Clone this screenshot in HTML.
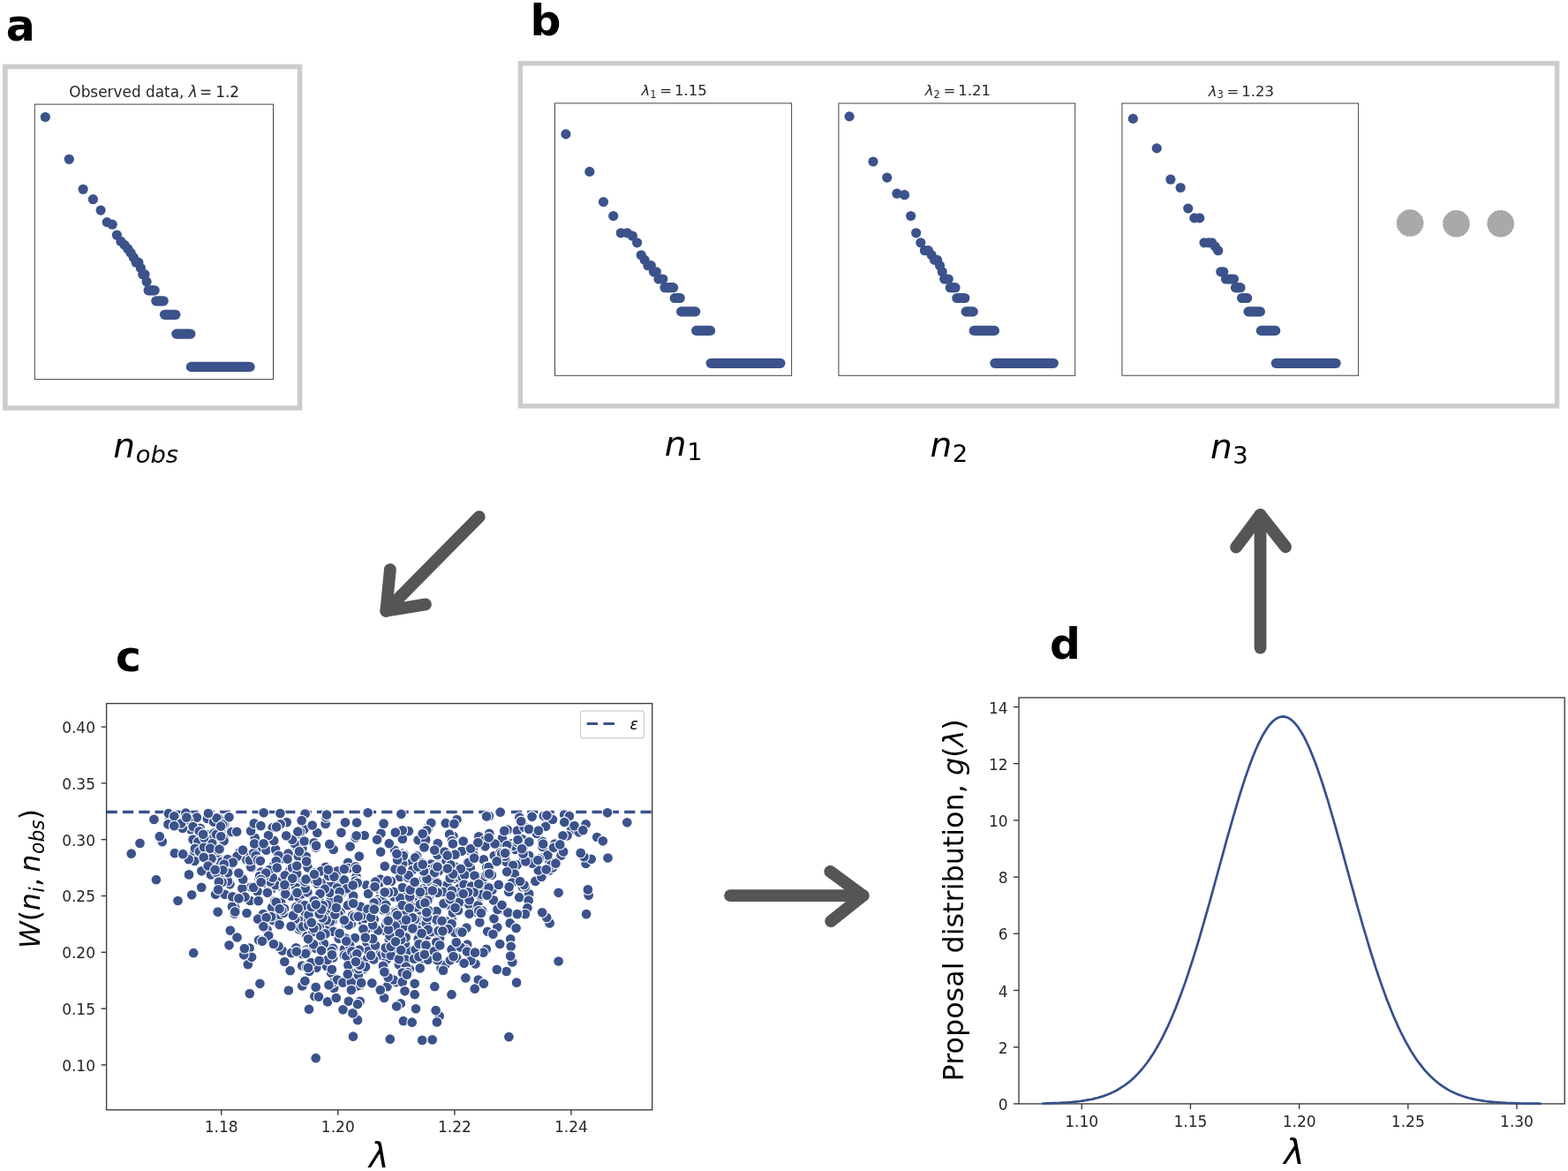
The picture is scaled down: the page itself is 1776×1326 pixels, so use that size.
<!DOCTYPE html>
<html lang="en"><head><meta charset="utf-8"><title>ABC scheme</title>
<style>html,body{margin:0;padding:0;background:#fff}body{width:1776px;height:1326px;overflow:hidden}svg{display:block}</style>
</head><body>
<svg width="1776" height="1326" viewBox="0 0 1776 1326" font-family="'DejaVu Sans','Liberation Sans',sans-serif">
<rect width="1776" height="1326" fill="#fff"/>
<rect x="5.9" y="75.5" width="333.6" height="386.5" fill="#fff" stroke="#cccccc" stroke-width="5.6"/>
<rect x="589.4" y="71.8" width="1174.2" height="388.0" fill="#fff" stroke="#cccccc" stroke-width="5.5"/>
<text transform="matrix(0.4905 0 0 0.5026 6.77 45.60)" font-size="100" fill="#000" font-weight="bold">a</text>
<text transform="translate(600.43 39.58) scale(0.4880)" font-size="100" fill="#000" font-weight="bold">b</text>
<text transform="translate(130.95 759.60) scale(0.4880)" font-size="100" fill="#000" font-weight="bold">c</text>
<text transform="translate(1189.07 745.53) scale(0.4880)" font-size="100" fill="#000" font-weight="bold">d</text>
<rect x="39.3" y="118.1" width="270.2" height="311.5" fill="#fff" stroke="#444" stroke-width="1"/>
<g fill="#3b528b" stroke="#3b528b" stroke-width="11.2" stroke-linecap="round">
<circle stroke="none" cx="51.3" cy="132.5" r="5.6"/><circle stroke="none" cx="78.3" cy="180.3" r="5.6"/><circle stroke="none" cx="94.1" cy="214.3" r="5.6"/><circle stroke="none" cx="105.4" cy="225.7" r="5.6"/><circle stroke="none" cx="114.1" cy="238.1" r="5.6"/><circle stroke="none" cx="121.2" cy="251.6" r="5.6"/><circle stroke="none" cx="127.2" cy="254.2" r="5.6"/><circle stroke="none" cx="132.4" cy="266.2" r="5.6"/><circle stroke="none" cx="137.0" cy="273.4" r="5.6"/><circle stroke="none" cx="141.1" cy="277.4" r="5.6"/><circle stroke="none" cx="144.8" cy="281.7" r="5.6"/><circle stroke="none" cx="148.2" cy="286.4" r="5.6"/><circle stroke="none" cx="151.3" cy="291.5" r="5.6"/><circle stroke="none" cx="154.2" cy="297.2" r="5.6"/><circle stroke="none" cx="156.9" cy="297.2" r="5.6"/><circle stroke="none" cx="159.4" cy="303.5" r="5.6"/><circle stroke="none" cx="161.8" cy="310.7" r="5.6"/><circle stroke="none" cx="164.0" cy="310.7" r="5.6"/><circle stroke="none" cx="166.1" cy="319.0" r="5.6"/><circle stroke="none" cx="168.1" cy="328.8" r="5.6"/><circle stroke="none" cx="170.0" cy="328.8" r="5.6"/><circle stroke="none" cx="171.9" cy="328.8" r="5.6"/><circle stroke="none" cx="173.6" cy="328.8" r="5.6"/><circle stroke="none" cx="175.2" cy="328.8" r="5.6"/><line x1="176.8" y1="340.8" x2="185.2" y2="340.8"/><line x1="186.5" y1="356.3" x2="198.9" y2="356.3"/><line x1="199.8" y1="378.1" x2="215.9" y2="378.1"/><line x1="216.4" y1="415.4" x2="283.1" y2="415.4"/>
</g>
<rect x="628.5" y="116.9" width="268.1" height="308.4" fill="#fff" stroke="#444" stroke-width="1"/>
<g fill="#3b528b" stroke="#3b528b" stroke-width="11.2" stroke-linecap="round">
<circle stroke="none" cx="640.9" cy="151.9" r="5.6"/><circle stroke="none" cx="667.8" cy="194.4" r="5.6"/><circle stroke="none" cx="683.5" cy="228.6" r="5.6"/><circle stroke="none" cx="694.7" cy="244.5" r="5.6"/><circle stroke="none" cx="703.3" cy="263.8" r="5.6"/><circle stroke="none" cx="710.4" cy="263.8" r="5.6"/><circle stroke="none" cx="716.4" cy="267.2" r="5.6"/><circle stroke="none" cx="721.6" cy="274.8" r="5.6"/><circle stroke="none" cx="726.2" cy="288.8" r="5.6"/><circle stroke="none" cx="730.2" cy="294.4" r="5.6"/><circle stroke="none" cx="733.9" cy="300.7" r="5.6"/><circle stroke="none" cx="737.3" cy="300.7" r="5.6"/><circle stroke="none" cx="740.4" cy="307.8" r="5.6"/><circle stroke="none" cx="743.3" cy="307.8" r="5.6"/><circle stroke="none" cx="746.0" cy="316.0" r="5.6"/><circle stroke="none" cx="748.5" cy="316.0" r="5.6"/><circle stroke="none" cx="750.8" cy="316.0" r="5.6"/><circle stroke="none" cx="753.0" cy="325.7" r="5.6"/><circle stroke="none" cx="755.1" cy="325.7" r="5.6"/><circle stroke="none" cx="757.1" cy="325.7" r="5.6"/><circle stroke="none" cx="759.0" cy="325.7" r="5.6"/><circle stroke="none" cx="760.8" cy="325.7" r="5.6"/><circle stroke="none" cx="762.6" cy="325.7" r="5.6"/><circle stroke="none" cx="764.2" cy="337.5" r="5.6"/><circle stroke="none" cx="765.8" cy="337.5" r="5.6"/><circle stroke="none" cx="767.3" cy="337.5" r="5.6"/><circle stroke="none" cx="768.8" cy="337.5" r="5.6"/><circle stroke="none" cx="770.2" cy="337.5" r="5.6"/><line x1="771.6" y1="352.9" x2="787.7" y2="352.9"/><line x1="788.6" y1="374.4" x2="804.6" y2="374.4"/><line x1="805.2" y1="411.3" x2="883.9" y2="411.3"/>
</g>
<rect x="949.9" y="117.0" width="267.8" height="308.3" fill="#fff" stroke="#444" stroke-width="1"/>
<g fill="#3b528b" stroke="#3b528b" stroke-width="11.2" stroke-linecap="round">
<circle stroke="none" cx="962.1" cy="131.9" r="5.6"/><circle stroke="none" cx="989.0" cy="183.0" r="5.6"/><circle stroke="none" cx="1004.7" cy="201.1" r="5.6"/><circle stroke="none" cx="1015.9" cy="219.2" r="5.6"/><circle stroke="none" cx="1024.5" cy="220.7" r="5.6"/><circle stroke="none" cx="1031.6" cy="244.5" r="5.6"/><circle stroke="none" cx="1037.6" cy="263.8" r="5.6"/><circle stroke="none" cx="1042.8" cy="274.8" r="5.6"/><circle stroke="none" cx="1047.4" cy="283.7" r="5.6"/><circle stroke="none" cx="1051.4" cy="283.7" r="5.6"/><circle stroke="none" cx="1055.1" cy="288.8" r="5.6"/><circle stroke="none" cx="1058.5" cy="294.4" r="5.6"/><circle stroke="none" cx="1061.6" cy="294.4" r="5.6"/><circle stroke="none" cx="1064.5" cy="300.7" r="5.6"/><circle stroke="none" cx="1067.2" cy="307.8" r="5.6"/><circle stroke="none" cx="1069.7" cy="316.0" r="5.6"/><circle stroke="none" cx="1072.0" cy="316.0" r="5.6"/><circle stroke="none" cx="1074.2" cy="316.0" r="5.6"/><circle stroke="none" cx="1076.3" cy="325.7" r="5.6"/><circle stroke="none" cx="1078.3" cy="325.7" r="5.6"/><circle stroke="none" cx="1080.2" cy="325.7" r="5.6"/><circle stroke="none" cx="1082.0" cy="325.7" r="5.6"/><line x1="1083.8" y1="337.5" x2="1092.8" y2="337.5"/><line x1="1094.1" y1="352.9" x2="1102.2" y2="352.9"/><line x1="1103.2" y1="374.4" x2="1126.4" y2="374.4"/><line x1="1126.9" y1="411.3" x2="1193.3" y2="411.3"/>
</g>
<rect x="1270.9" y="117.0" width="267.7" height="308.2" fill="#fff" stroke="#444" stroke-width="1"/>
<g fill="#3b528b" stroke="#3b528b" stroke-width="11.2" stroke-linecap="round">
<circle stroke="none" cx="1283.3" cy="134.4" r="5.6"/><circle stroke="none" cx="1310.2" cy="167.9" r="5.6"/><circle stroke="none" cx="1325.9" cy="203.2" r="5.6"/><circle stroke="none" cx="1337.1" cy="212.5" r="5.6"/><circle stroke="none" cx="1345.7" cy="236.0" r="5.6"/><circle stroke="none" cx="1352.8" cy="246.9" r="5.6"/><circle stroke="none" cx="1358.8" cy="246.9" r="5.6"/><circle stroke="none" cx="1364.0" cy="274.8" r="5.6"/><circle stroke="none" cx="1368.6" cy="274.8" r="5.6"/><circle stroke="none" cx="1372.6" cy="274.8" r="5.6"/><circle stroke="none" cx="1376.3" cy="279.1" r="5.6"/><circle stroke="none" cx="1379.7" cy="283.7" r="5.6"/><circle stroke="none" cx="1382.8" cy="307.8" r="5.6"/><circle stroke="none" cx="1385.7" cy="307.8" r="5.6"/><circle stroke="none" cx="1388.4" cy="316.0" r="5.6"/><circle stroke="none" cx="1390.9" cy="316.0" r="5.6"/><circle stroke="none" cx="1393.2" cy="316.0" r="5.6"/><circle stroke="none" cx="1395.4" cy="316.0" r="5.6"/><circle stroke="none" cx="1397.5" cy="316.0" r="5.6"/><circle stroke="none" cx="1399.5" cy="325.7" r="5.6"/><circle stroke="none" cx="1401.4" cy="325.7" r="5.6"/><circle stroke="none" cx="1403.2" cy="325.7" r="5.6"/><circle stroke="none" cx="1405.0" cy="325.7" r="5.6"/><circle stroke="none" cx="1406.6" cy="337.5" r="5.6"/><circle stroke="none" cx="1408.2" cy="337.5" r="5.6"/><circle stroke="none" cx="1409.7" cy="337.5" r="5.6"/><circle stroke="none" cx="1411.2" cy="337.5" r="5.6"/><circle stroke="none" cx="1412.6" cy="337.5" r="5.6"/><line x1="1414.0" y1="352.9" x2="1427.4" y2="352.9"/><line x1="1428.3" y1="374.4" x2="1444.7" y2="374.4"/><line x1="1445.3" y1="411.3" x2="1513.1" y2="411.3"/>
</g>
<text transform="translate(78.34 109.58) scale(0.1690)" font-size="100" fill="#262626" >Observed data, <tspan font-style="italic">λ</tspan><tspan dx="-18"> =</tspan><tspan dx="-8"> 1.2</tspan></text>
<text transform="translate(726.58 108.11) scale(0.1650)" font-size="100" fill="#262626" ><tspan font-style="italic">λ</tspan><tspan font-size="70" dy="15">1</tspan><tspan dy="-15" dx="22">=</tspan><tspan dx="18">1.15</tspan></text>
<text transform="translate(1047.72 108.11) scale(0.1650)" font-size="100" fill="#262626" ><tspan font-style="italic">λ</tspan><tspan font-size="70" dy="15">2</tspan><tspan dy="-15" dx="22">=</tspan><tspan dx="18">1.21</tspan></text>
<text transform="translate(1368.66 108.80) scale(0.1650)" font-size="100" fill="#262626" ><tspan font-style="italic">λ</tspan><tspan font-size="70" dy="15">3</tspan><tspan dy="-15" dx="22">=</tspan><tspan dx="18">1.23</tspan></text>
<text transform="translate(128.31 518.30) scale(0.3900)" font-size="100" fill="#000" font-style="italic">n<tspan font-size="70" dy="14.5" dx="2" font-style="italic">obs</tspan></text>
<text transform="translate(752.79 515.54) scale(0.3900)" font-size="100" fill="#000" font-style="italic">n<tspan font-size="70" dy="14.5" dx="2" font-style="normal">1</tspan></text>
<text transform="translate(1053.38 517.49) scale(0.3900)" font-size="100" fill="#000" font-style="italic">n<tspan font-size="70" dy="14.5" dx="2" font-style="normal">2</tspan></text>
<text transform="translate(1370.89 519.00) scale(0.3900)" font-size="100" fill="#000" font-style="italic">n<tspan font-size="70" dy="14.5" dx="2" font-style="normal">3</tspan></text>
<circle cx="1597.1" cy="252.6" r="15" fill="#a9a9a9" stroke="#8f8f8f" stroke-width="0.7" stroke-dasharray="2.2 1.5"/>
<circle cx="1649.5" cy="253.3" r="15" fill="#a9a9a9" stroke="#8f8f8f" stroke-width="0.7" stroke-dasharray="2.2 1.5"/>
<circle cx="1699.7" cy="253.3" r="15" fill="#a9a9a9" stroke="#8f8f8f" stroke-width="0.7" stroke-dasharray="2.2 1.5"/>
<g fill="none" stroke="#555555" stroke-width="13.8" stroke-linecap="round" stroke-linejoin="round"><path d="M542.8 585.1L437.3 691.8"/><path d="M441.9 644.8L437.3 691.8L482 684.4"/></g>
<g fill="none" stroke="#555555" stroke-width="13.8" stroke-linecap="round" stroke-linejoin="round"><path d="M827.1 1014.2L977.6 1014.2"/><path d="M940.3 986.9L977.6 1014.2L941.2 1043.2"/></g>
<g fill="none" stroke="#555555" stroke-width="13.8" stroke-linecap="round" stroke-linejoin="round"><path d="M1427.5 733.5L1427.5 583"/><path d="M1400.1 619.7L1427.5 583L1456.1 619.3"/></g>
<rect x="120.6" y="796.6" width="618.1" height="460.2" fill="#fff" stroke="none"/>
<line x1="120.6" y1="919.5" x2="738.7" y2="919.5" stroke="#3b528b" stroke-width="3.3" stroke-dasharray="12.2 6.13"/>
<g fill="#3b528b" stroke="#fff" stroke-width="1.1">
<circle cx="545.8" cy="1005.3" r="5.9"/><circle cx="407.7" cy="1133.8" r="5.9"/><circle cx="475.9" cy="1028.4" r="5.9"/><circle cx="235.3" cy="921.6" r="5.9"/><circle cx="234.8" cy="945.2" r="5.9"/><circle cx="482.6" cy="1082.2" r="5.9"/><circle cx="342.4" cy="960.6" r="5.9"/><circle cx="485.3" cy="937.0" r="5.9"/><circle cx="447.5" cy="984.8" r="5.9"/><circle cx="415.9" cy="1085.9" r="5.9"/><circle cx="506.5" cy="968.6" r="5.9"/><circle cx="335.9" cy="958.4" r="5.9"/><circle cx="430.8" cy="995.7" r="5.9"/><circle cx="515.3" cy="994.8" r="5.9"/><circle cx="532.3" cy="963.4" r="5.9"/><circle cx="266.2" cy="1027.7" r="5.9"/><circle cx="541.8" cy="1109.5" r="5.9"/><circle cx="340.3" cy="944.4" r="5.9"/><circle cx="357.9" cy="1026.3" r="5.9"/><circle cx="566.2" cy="1069.0" r="5.9"/><circle cx="462.9" cy="941.1" r="5.9"/><circle cx="367.2" cy="1045.9" r="5.9"/><circle cx="614.2" cy="956.0" r="5.9"/><circle cx="285.1" cy="982.6" r="5.9"/><circle cx="606.4" cy="997.9" r="5.9"/><circle cx="364.0" cy="1047.1" r="5.9"/><circle cx="279.9" cy="1034.7" r="5.9"/><circle cx="522.4" cy="1012.4" r="5.9"/><circle cx="417.7" cy="1050.8" r="5.9"/><circle cx="469.3" cy="1031.5" r="5.9"/><circle cx="281.8" cy="967.8" r="5.9"/><circle cx="301.0" cy="1000.4" r="5.9"/><circle cx="430.5" cy="1008.2" r="5.9"/><circle cx="246.5" cy="970.6" r="5.9"/><circle cx="506.6" cy="1025.2" r="5.9"/><circle cx="453.8" cy="1136.4" r="5.9"/><circle cx="368.7" cy="933.0" r="5.9"/><circle cx="279.5" cy="1034.0" r="5.9"/><circle cx="494.5" cy="1031.9" r="5.9"/><circle cx="564.7" cy="971.4" r="5.9"/><circle cx="588.2" cy="1016.2" r="5.9"/><circle cx="398.3" cy="1020.0" r="5.9"/><circle cx="249.4" cy="983.8" r="5.9"/><circle cx="344.4" cy="939.2" r="5.9"/><circle cx="451.8" cy="1040.9" r="5.9"/><circle cx="401.1" cy="1042.5" r="5.9"/><circle cx="618.1" cy="966.4" r="5.9"/><circle cx="498.1" cy="1062.3" r="5.9"/><circle cx="494.3" cy="1066.9" r="5.9"/><circle cx="345.6" cy="921.5" r="5.9"/><circle cx="376.4" cy="1043.0" r="5.9"/><circle cx="279.3" cy="973.5" r="5.9"/><circle cx="238.8" cy="990.5" r="5.9"/><circle cx="370.6" cy="1086.4" r="5.9"/><circle cx="275.7" cy="998.0" r="5.9"/><circle cx="511.6" cy="1040.0" r="5.9"/><circle cx="368.7" cy="1005.6" r="5.9"/><circle cx="260.8" cy="1053.6" r="5.9"/><circle cx="446.5" cy="1032.6" r="5.9"/><circle cx="484.5" cy="1058.8" r="5.9"/><circle cx="462.0" cy="1048.8" r="5.9"/><circle cx="554.3" cy="943.9" r="5.9"/><circle cx="406.9" cy="969.6" r="5.9"/><circle cx="583.5" cy="961.9" r="5.9"/><circle cx="347.5" cy="1059.9" r="5.9"/><circle cx="621.0" cy="964.0" r="5.9"/><circle cx="252.0" cy="938.5" r="5.9"/><circle cx="538.5" cy="1091.5" r="5.9"/><circle cx="403.5" cy="992.5" r="5.9"/><circle cx="469.7" cy="1113.8" r="5.9"/><circle cx="473.3" cy="1025.7" r="5.9"/><circle cx="219.2" cy="1079.2" r="5.9"/><circle cx="599.2" cy="1012.1" r="5.9"/><circle cx="554.0" cy="924.1" r="5.9"/><circle cx="293.6" cy="995.1" r="5.9"/><circle cx="369.5" cy="925.4" r="5.9"/><circle cx="309.5" cy="1042.1" r="5.9"/><circle cx="226.7" cy="968.7" r="5.9"/><circle cx="335.3" cy="1073.3" r="5.9"/><circle cx="422.2" cy="1074.5" r="5.9"/><circle cx="458.6" cy="1016.1" r="5.9"/><circle cx="336.8" cy="1010.7" r="5.9"/><circle cx="158.5" cy="954.9" r="5.9"/><circle cx="337.7" cy="1000.6" r="5.9"/><circle cx="373.2" cy="1040.5" r="5.9"/><circle cx="333.2" cy="1006.1" r="5.9"/><circle cx="347.2" cy="1075.2" r="5.9"/><circle cx="638.8" cy="922.9" r="5.9"/><circle cx="356.4" cy="1128.2" r="5.9"/><circle cx="613.3" cy="992.9" r="5.9"/><circle cx="338.8" cy="1052.5" r="5.9"/><circle cx="253.9" cy="949.4" r="5.9"/><circle cx="295.8" cy="987.6" r="5.9"/><circle cx="591.9" cy="1004.5" r="5.9"/><circle cx="251.1" cy="993.1" r="5.9"/><circle cx="361.2" cy="1052.2" r="5.9"/><circle cx="598.7" cy="1019.7" r="5.9"/><circle cx="456.3" cy="1019.4" r="5.9"/><circle cx="263.0" cy="1026.7" r="5.9"/><circle cx="271.6" cy="965.1" r="5.9"/><circle cx="342.5" cy="1080.1" r="5.9"/><circle cx="445.7" cy="1074.7" r="5.9"/><circle cx="431.5" cy="943.7" r="5.9"/><circle cx="546.3" cy="997.8" r="5.9"/><circle cx="429.4" cy="1018.0" r="5.9"/><circle cx="520.2" cy="1005.9" r="5.9"/><circle cx="504.1" cy="1047.8" r="5.9"/><circle cx="392.8" cy="1067.2" r="5.9"/><circle cx="511.6" cy="1075.2" r="5.9"/><circle cx="455.9" cy="966.7" r="5.9"/><circle cx="471.6" cy="978.9" r="5.9"/><circle cx="240.0" cy="976.0" r="5.9"/><circle cx="307.0" cy="1003.3" r="5.9"/><circle cx="483.4" cy="1002.1" r="5.9"/><circle cx="372.0" cy="1033.6" r="5.9"/><circle cx="282.6" cy="1073.6" r="5.9"/><circle cx="415.3" cy="1064.1" r="5.9"/><circle cx="485.0" cy="1030.9" r="5.9"/><circle cx="367.4" cy="1037.9" r="5.9"/><circle cx="513.4" cy="946.8" r="5.9"/><circle cx="485.1" cy="1039.0" r="5.9"/><circle cx="283.4" cy="967.8" r="5.9"/><circle cx="283.3" cy="1019.9" r="5.9"/><circle cx="280.8" cy="1092.1" r="5.9"/><circle cx="219.5" cy="927.1" r="5.9"/><circle cx="343.1" cy="996.9" r="5.9"/><circle cx="307.3" cy="1007.2" r="5.9"/><circle cx="438.5" cy="1117.2" r="5.9"/><circle cx="370.1" cy="1094.2" r="5.9"/><circle cx="317.1" cy="1035.9" r="5.9"/><circle cx="333.6" cy="955.1" r="5.9"/><circle cx="628.4" cy="955.5" r="5.9"/><circle cx="457.0" cy="1042.5" r="5.9"/><circle cx="548.4" cy="992.7" r="5.9"/><circle cx="362.1" cy="1020.9" r="5.9"/><circle cx="294.4" cy="1113.8" r="5.9"/><circle cx="430.0" cy="1080.5" r="5.9"/><circle cx="376.8" cy="1018.4" r="5.9"/><circle cx="462.0" cy="1076.2" r="5.9"/><circle cx="256.3" cy="927.0" r="5.9"/><circle cx="710.3" cy="931.3" r="5.9"/><circle cx="455.9" cy="949.9" r="5.9"/><circle cx="647.0" cy="940.2" r="5.9"/><circle cx="404.1" cy="931.5" r="5.9"/><circle cx="458.8" cy="1068.5" r="5.9"/><circle cx="316.7" cy="1003.3" r="5.9"/><circle cx="593.0" cy="958.4" r="5.9"/><circle cx="378.2" cy="1119.0" r="5.9"/><circle cx="316.7" cy="998.5" r="5.9"/><circle cx="588.9" cy="928.0" r="5.9"/><circle cx="308.2" cy="1027.6" r="5.9"/><circle cx="488.1" cy="978.5" r="5.9"/><circle cx="407.7" cy="1115.9" r="5.9"/><circle cx="362.6" cy="1047.4" r="5.9"/><circle cx="258.3" cy="982.7" r="5.9"/><circle cx="496.2" cy="1049.0" r="5.9"/><circle cx="440.8" cy="1064.1" r="5.9"/><circle cx="460.3" cy="1052.8" r="5.9"/><circle cx="432.3" cy="1081.8" r="5.9"/><circle cx="499.3" cy="1007.1" r="5.9"/><circle cx="554.4" cy="953.2" r="5.9"/><circle cx="320.2" cy="972.1" r="5.9"/><circle cx="407.4" cy="1039.8" r="5.9"/><circle cx="472.7" cy="971.9" r="5.9"/><circle cx="413.4" cy="1052.3" r="5.9"/><circle cx="381.2" cy="1019.8" r="5.9"/><circle cx="392.0" cy="1046.4" r="5.9"/><circle cx="377.7" cy="962.0" r="5.9"/><circle cx="478.2" cy="1177.9" r="5.9"/><circle cx="565.0" cy="1029.2" r="5.9"/><circle cx="520.2" cy="1010.6" r="5.9"/><circle cx="517.5" cy="928.0" r="5.9"/><circle cx="345.0" cy="1048.7" r="5.9"/><circle cx="219.7" cy="974.9" r="5.9"/><circle cx="455.9" cy="1005.0" r="5.9"/><circle cx="339.8" cy="941.9" r="5.9"/><circle cx="347.4" cy="1075.6" r="5.9"/><circle cx="538.7" cy="991.9" r="5.9"/><circle cx="453.4" cy="1028.6" r="5.9"/><circle cx="350.0" cy="1142.8" r="5.9"/><circle cx="415.0" cy="1002.3" r="5.9"/><circle cx="458.3" cy="1053.5" r="5.9"/><circle cx="399.6" cy="1114.6" r="5.9"/><circle cx="488.3" cy="931.9" r="5.9"/><circle cx="312.0" cy="1002.2" r="5.9"/><circle cx="383.8" cy="1013.5" r="5.9"/><circle cx="257.5" cy="927.0" r="5.9"/><circle cx="348.6" cy="982.3" r="5.9"/><circle cx="249.3" cy="975.9" r="5.9"/><circle cx="284.2" cy="981.7" r="5.9"/><circle cx="419.1" cy="1046.7" r="5.9"/><circle cx="412.2" cy="1097.1" r="5.9"/><circle cx="552.2" cy="1054.8" r="5.9"/><circle cx="639.2" cy="922.5" r="5.9"/><circle cx="268.6" cy="969.6" r="5.9"/><circle cx="441.2" cy="1055.0" r="5.9"/><circle cx="326.5" cy="966.5" r="5.9"/><circle cx="373.7" cy="1048.4" r="5.9"/><circle cx="486.7" cy="993.9" r="5.9"/><circle cx="476.1" cy="1036.6" r="5.9"/><circle cx="486.7" cy="984.5" r="5.9"/><circle cx="467.3" cy="1035.6" r="5.9"/><circle cx="451.8" cy="1092.3" r="5.9"/><circle cx="252.0" cy="936.1" r="5.9"/><circle cx="483.3" cy="940.3" r="5.9"/><circle cx="529.2" cy="1069.6" r="5.9"/><circle cx="220.5" cy="964.9" r="5.9"/><circle cx="240.3" cy="973.2" r="5.9"/><circle cx="319.8" cy="1076.5" r="5.9"/><circle cx="597.4" cy="1028.2" r="5.9"/><circle cx="635.6" cy="968.6" r="5.9"/><circle cx="479.6" cy="1086.2" r="5.9"/><circle cx="550.8" cy="1074.9" r="5.9"/><circle cx="453.2" cy="993.0" r="5.9"/><circle cx="218.6" cy="950.6" r="5.9"/><circle cx="244.1" cy="1012.8" r="5.9"/><circle cx="387.0" cy="998.3" r="5.9"/><circle cx="284.3" cy="1004.7" r="5.9"/><circle cx="473.6" cy="951.3" r="5.9"/><circle cx="394.9" cy="1095.7" r="5.9"/><circle cx="394.5" cy="1081.3" r="5.9"/><circle cx="512.9" cy="1033.5" r="5.9"/><circle cx="434.6" cy="1012.1" r="5.9"/><circle cx="234.8" cy="927.0" r="5.9"/><circle cx="228.3" cy="986.3" r="5.9"/><circle cx="349.9" cy="1046.6" r="5.9"/><circle cx="473.7" cy="974.9" r="5.9"/><circle cx="321.9" cy="1003.4" r="5.9"/><circle cx="433.8" cy="1019.2" r="5.9"/><circle cx="419.1" cy="1077.8" r="5.9"/><circle cx="417.8" cy="1036.2" r="5.9"/><circle cx="476.6" cy="1016.8" r="5.9"/><circle cx="405.1" cy="1155.1" r="5.9"/><circle cx="567.7" cy="951.9" r="5.9"/><circle cx="355.8" cy="956.4" r="5.9"/><circle cx="509.1" cy="944.7" r="5.9"/><circle cx="306.1" cy="998.3" r="5.9"/><circle cx="292.1" cy="961.0" r="5.9"/><circle cx="400.5" cy="1097.7" r="5.9"/><circle cx="375.2" cy="1101.8" r="5.9"/><circle cx="493.8" cy="998.1" r="5.9"/><circle cx="495.5" cy="1053.4" r="5.9"/><circle cx="499.5" cy="1096.2" r="5.9"/><circle cx="504.0" cy="1093.0" r="5.9"/><circle cx="397.8" cy="1046.2" r="5.9"/><circle cx="497.0" cy="986.1" r="5.9"/><circle cx="400.9" cy="1112.7" r="5.9"/><circle cx="559.8" cy="969.0" r="5.9"/><circle cx="379.1" cy="1028.8" r="5.9"/><circle cx="527.4" cy="1107.4" r="5.9"/><circle cx="342.2" cy="1093.5" r="5.9"/><circle cx="325.9" cy="998.3" r="5.9"/><circle cx="472.2" cy="969.4" r="5.9"/><circle cx="335.5" cy="1005.0" r="5.9"/><circle cx="459.7" cy="1086.5" r="5.9"/><circle cx="614.8" cy="959.5" r="5.9"/><circle cx="487.3" cy="988.3" r="5.9"/><circle cx="390.3" cy="1002.8" r="5.9"/><circle cx="285.1" cy="1083.8" r="5.9"/><circle cx="591.6" cy="950.3" r="5.9"/><circle cx="588.4" cy="925.7" r="5.9"/><circle cx="354.7" cy="1024.1" r="5.9"/><circle cx="547.8" cy="973.4" r="5.9"/><circle cx="505.2" cy="1043.3" r="5.9"/><circle cx="576.3" cy="1009.9" r="5.9"/><circle cx="282.9" cy="974.2" r="5.9"/><circle cx="405.1" cy="998.3" r="5.9"/><circle cx="498.9" cy="970.2" r="5.9"/><circle cx="454.4" cy="921.8" r="5.9"/><circle cx="527.2" cy="1075.0" r="5.9"/><circle cx="328.2" cy="986.0" r="5.9"/><circle cx="644.9" cy="924.1" r="5.9"/><circle cx="578.2" cy="1063.3" r="5.9"/><circle cx="535.6" cy="962.0" r="5.9"/><circle cx="622.4" cy="985.5" r="5.9"/><circle cx="531.5" cy="985.2" r="5.9"/><circle cx="542.3" cy="947.4" r="5.9"/><circle cx="618.1" cy="935.8" r="5.9"/><circle cx="386.7" cy="1011.6" r="5.9"/><circle cx="213.8" cy="990.8" r="5.9"/><circle cx="448.6" cy="1033.5" r="5.9"/><circle cx="302.5" cy="1052.8" r="5.9"/><circle cx="444.7" cy="1015.0" r="5.9"/><circle cx="477.0" cy="1042.4" r="5.9"/><circle cx="235.0" cy="968.3" r="5.9"/><circle cx="688.5" cy="971.5" r="5.9"/><circle cx="394.8" cy="1047.5" r="5.9"/><circle cx="447.6" cy="984.2" r="5.9"/><circle cx="634.2" cy="956.7" r="5.9"/><circle cx="377.6" cy="1112.3" r="5.9"/><circle cx="529.7" cy="976.2" r="5.9"/><circle cx="373.7" cy="1003.2" r="5.9"/><circle cx="588.5" cy="954.1" r="5.9"/><circle cx="436.2" cy="1054.0" r="5.9"/><circle cx="291.7" cy="1009.5" r="5.9"/><circle cx="253.6" cy="952.1" r="5.9"/><circle cx="308.7" cy="993.7" r="5.9"/><circle cx="250.8" cy="992.7" r="5.9"/><circle cx="191.4" cy="924.3" r="5.9"/><circle cx="480.9" cy="1040.9" r="5.9"/><circle cx="328.3" cy="993.3" r="5.9"/><circle cx="407.7" cy="1028.3" r="5.9"/><circle cx="469.0" cy="1085.7" r="5.9"/><circle cx="622.6" cy="1045.4" r="5.9"/><circle cx="398.6" cy="1112.9" r="5.9"/><circle cx="444.2" cy="1057.5" r="5.9"/><circle cx="405.0" cy="1116.3" r="5.9"/><circle cx="377.2" cy="1073.8" r="5.9"/><circle cx="344.7" cy="952.5" r="5.9"/><circle cx="342.3" cy="1116.4" r="5.9"/><circle cx="411.1" cy="1043.8" r="5.9"/><circle cx="428.4" cy="1053.5" r="5.9"/><circle cx="517.2" cy="1084.6" r="5.9"/><circle cx="466.7" cy="976.6" r="5.9"/><circle cx="477.8" cy="1030.2" r="5.9"/><circle cx="531.4" cy="988.8" r="5.9"/><circle cx="471.0" cy="1142.3" r="5.9"/><circle cx="370.8" cy="923.0" r="5.9"/><circle cx="521.7" cy="1072.5" r="5.9"/><circle cx="293.2" cy="1064.5" r="5.9"/><circle cx="309.6" cy="980.8" r="5.9"/><circle cx="460.4" cy="1060.4" r="5.9"/><circle cx="470.8" cy="1035.6" r="5.9"/><circle cx="357.7" cy="1117.9" r="5.9"/><circle cx="461.7" cy="1040.2" r="5.9"/><circle cx="402.0" cy="1062.1" r="5.9"/><circle cx="425.3" cy="1002.2" r="5.9"/><circle cx="215.9" cy="939.2" r="5.9"/><circle cx="580.3" cy="1089.5" r="5.9"/><circle cx="354.4" cy="1047.0" r="5.9"/><circle cx="424.4" cy="1000.0" r="5.9"/><circle cx="399.8" cy="1099.3" r="5.9"/><circle cx="414.4" cy="1052.4" r="5.9"/><circle cx="389.9" cy="1074.8" r="5.9"/><circle cx="361.0" cy="998.0" r="5.9"/><circle cx="335.4" cy="1027.1" r="5.9"/><circle cx="437.8" cy="1086.4" r="5.9"/><circle cx="625.9" cy="982.4" r="5.9"/><circle cx="506.5" cy="1002.0" r="5.9"/><circle cx="405.9" cy="1076.0" r="5.9"/><circle cx="201.5" cy="1020.0" r="5.9"/><circle cx="475.6" cy="1030.1" r="5.9"/><circle cx="482.2" cy="950.9" r="5.9"/><circle cx="404.9" cy="1086.8" r="5.9"/><circle cx="501.4" cy="1009.8" r="5.9"/><circle cx="301.6" cy="962.6" r="5.9"/><circle cx="415.5" cy="1067.0" r="5.9"/><circle cx="479.3" cy="1085.2" r="5.9"/><circle cx="497.7" cy="1150.5" r="5.9"/><circle cx="417.4" cy="1076.9" r="5.9"/><circle cx="619.2" cy="1039.0" r="5.9"/><circle cx="262.3" cy="942.0" r="5.9"/><circle cx="579.8" cy="955.4" r="5.9"/><circle cx="396.7" cy="1112.7" r="5.9"/><circle cx="299.5" cy="1063.7" r="5.9"/><circle cx="663.6" cy="978.0" r="5.9"/><circle cx="482.9" cy="1042.8" r="5.9"/><circle cx="288.7" cy="948.9" r="5.9"/><circle cx="396.1" cy="1108.1" r="5.9"/><circle cx="312.1" cy="961.9" r="5.9"/><circle cx="333.3" cy="1043.7" r="5.9"/><circle cx="435.7" cy="1030.1" r="5.9"/><circle cx="344.7" cy="1006.7" r="5.9"/><circle cx="564.6" cy="957.5" r="5.9"/><circle cx="578.7" cy="1071.8" r="5.9"/><circle cx="254.7" cy="1012.8" r="5.9"/><circle cx="304.2" cy="1059.6" r="5.9"/><circle cx="526.8" cy="1021.5" r="5.9"/><circle cx="347.7" cy="1035.7" r="5.9"/><circle cx="614.4" cy="952.9" r="5.9"/><circle cx="483.3" cy="1041.7" r="5.9"/><circle cx="493.1" cy="981.9" r="5.9"/><circle cx="245.4" cy="965.6" r="5.9"/><circle cx="599.3" cy="953.4" r="5.9"/><circle cx="511.9" cy="952.0" r="5.9"/><circle cx="503.6" cy="1047.4" r="5.9"/><circle cx="663.6" cy="933.3" r="5.9"/><circle cx="190.5" cy="933.4" r="5.9"/><circle cx="377.2" cy="1084.5" r="5.9"/><circle cx="357.7" cy="1198.2" r="5.9"/><circle cx="337.6" cy="1048.5" r="5.9"/><circle cx="340.7" cy="1042.6" r="5.9"/><circle cx="594.9" cy="1004.3" r="5.9"/><circle cx="268.2" cy="941.8" r="5.9"/><circle cx="532.1" cy="1018.2" r="5.9"/><circle cx="359.3" cy="943.0" r="5.9"/><circle cx="484.3" cy="1018.4" r="5.9"/><circle cx="340.3" cy="1050.4" r="5.9"/><circle cx="318.2" cy="1022.0" r="5.9"/><circle cx="300.1" cy="991.6" r="5.9"/><circle cx="666.7" cy="1013.8" r="5.9"/><circle cx="247.5" cy="926.6" r="5.9"/><circle cx="480.5" cy="959.5" r="5.9"/><circle cx="528.4" cy="1050.6" r="5.9"/><circle cx="555.2" cy="953.8" r="5.9"/><circle cx="284.1" cy="941.0" r="5.9"/><circle cx="573.3" cy="975.8" r="5.9"/><circle cx="476.9" cy="1080.3" r="5.9"/><circle cx="445.0" cy="1045.0" r="5.9"/><circle cx="510.5" cy="1019.7" r="5.9"/><circle cx="532.8" cy="982.9" r="5.9"/><circle cx="382.0" cy="1109.5" r="5.9"/><circle cx="676.2" cy="948.0" r="5.9"/><circle cx="274.4" cy="1006.0" r="5.9"/><circle cx="435.1" cy="1130.0" r="5.9"/><circle cx="360.5" cy="1033.0" r="5.9"/><circle cx="343.1" cy="1049.1" r="5.9"/><circle cx="359.3" cy="1000.8" r="5.9"/><circle cx="503.7" cy="1023.1" r="5.9"/><circle cx="448.7" cy="1112.1" r="5.9"/><circle cx="242.2" cy="943.6" r="5.9"/><circle cx="475.3" cy="1026.1" r="5.9"/><circle cx="518.9" cy="1030.9" r="5.9"/><circle cx="329.5" cy="1014.6" r="5.9"/><circle cx="431.2" cy="964.6" r="5.9"/><circle cx="437.1" cy="1077.1" r="5.9"/><circle cx="569.4" cy="1029.9" r="5.9"/><circle cx="457.6" cy="1049.1" r="5.9"/><circle cx="484.8" cy="1086.8" r="5.9"/><circle cx="504.8" cy="932.2" r="5.9"/><circle cx="421.7" cy="1064.5" r="5.9"/><circle cx="481.1" cy="1005.1" r="5.9"/><circle cx="377.7" cy="1054.9" r="5.9"/><circle cx="449.2" cy="1139.5" r="5.9"/><circle cx="479.3" cy="1054.5" r="5.9"/><circle cx="361.0" cy="1128.7" r="5.9"/><circle cx="315.6" cy="968.9" r="5.9"/><circle cx="427.1" cy="1021.5" r="5.9"/><circle cx="593.5" cy="1002.0" r="5.9"/><circle cx="224.4" cy="953.3" r="5.9"/><circle cx="337.2" cy="1010.1" r="5.9"/><circle cx="451.0" cy="1068.3" r="5.9"/><circle cx="599.2" cy="968.9" r="5.9"/><circle cx="257.9" cy="973.0" r="5.9"/><circle cx="568.9" cy="949.3" r="5.9"/><circle cx="491.0" cy="1055.6" r="5.9"/><circle cx="399.3" cy="1019.8" r="5.9"/><circle cx="437.0" cy="1080.0" r="5.9"/><circle cx="548.9" cy="951.6" r="5.9"/><circle cx="566.7" cy="965.3" r="5.9"/><circle cx="311.4" cy="1020.3" r="5.9"/><circle cx="388.4" cy="1112.6" r="5.9"/><circle cx="366.9" cy="1068.6" r="5.9"/><circle cx="282.8" cy="1125.1" r="5.9"/><circle cx="246.7" cy="1032.6" r="5.9"/><circle cx="470.3" cy="971.2" r="5.9"/><circle cx="554.7" cy="953.1" r="5.9"/><circle cx="263.3" cy="1015.4" r="5.9"/><circle cx="485.4" cy="1016.5" r="5.9"/><circle cx="665.9" cy="1007.4" r="5.9"/><circle cx="389.7" cy="996.4" r="5.9"/><circle cx="389.9" cy="1081.6" r="5.9"/><circle cx="442.6" cy="1081.9" r="5.9"/><circle cx="563.3" cy="1050.0" r="5.9"/><circle cx="533.3" cy="1087.7" r="5.9"/><circle cx="328.7" cy="1099.2" r="5.9"/><circle cx="410.6" cy="1033.2" r="5.9"/><circle cx="388.5" cy="1063.0" r="5.9"/><circle cx="626.0" cy="928.0" r="5.9"/><circle cx="183.8" cy="953.1" r="5.9"/><circle cx="551.2" cy="982.0" r="5.9"/><circle cx="220.4" cy="975.0" r="5.9"/><circle cx="519.4" cy="993.5" r="5.9"/><circle cx="358.6" cy="1071.4" r="5.9"/><circle cx="458.7" cy="1016.2" r="5.9"/><circle cx="369.3" cy="998.9" r="5.9"/><circle cx="602.6" cy="924.8" r="5.9"/><circle cx="435.7" cy="1098.1" r="5.9"/><circle cx="428.8" cy="1002.9" r="5.9"/><circle cx="616.4" cy="958.3" r="5.9"/><circle cx="585.7" cy="979.3" r="5.9"/><circle cx="581.1" cy="979.9" r="5.9"/><circle cx="553.5" cy="981.8" r="5.9"/><circle cx="374.3" cy="1043.1" r="5.9"/><circle cx="479.7" cy="1015.8" r="5.9"/><circle cx="416.7" cy="920.3" r="5.9"/><circle cx="355.8" cy="996.0" r="5.9"/><circle cx="298.1" cy="1035.1" r="5.9"/><circle cx="337.9" cy="969.5" r="5.9"/><circle cx="349.1" cy="1042.8" r="5.9"/><circle cx="324.7" cy="931.1" r="5.9"/><circle cx="475.5" cy="1017.4" r="5.9"/><circle cx="210.4" cy="920.7" r="5.9"/><circle cx="669.7" cy="972.8" r="5.9"/><circle cx="470.6" cy="1075.3" r="5.9"/><circle cx="517.7" cy="989.3" r="5.9"/><circle cx="315.5" cy="1071.5" r="5.9"/><circle cx="304.9" cy="985.0" r="5.9"/><circle cx="478.2" cy="1081.1" r="5.9"/><circle cx="397.8" cy="1112.2" r="5.9"/><circle cx="220.9" cy="960.8" r="5.9"/><circle cx="516.8" cy="1067.0" r="5.9"/><circle cx="515.2" cy="1055.9" r="5.9"/><circle cx="287.4" cy="965.9" r="5.9"/><circle cx="582.9" cy="989.7" r="5.9"/><circle cx="529.0" cy="1077.5" r="5.9"/><circle cx="574.8" cy="939.7" r="5.9"/><circle cx="260.4" cy="1001.3" r="5.9"/><circle cx="453.6" cy="1041.8" r="5.9"/><circle cx="287.8" cy="932.4" r="5.9"/><circle cx="632.6" cy="1010.8" r="5.9"/><circle cx="397.9" cy="1121.0" r="5.9"/><circle cx="470.0" cy="1022.0" r="5.9"/><circle cx="459.6" cy="1061.5" r="5.9"/><circle cx="523.0" cy="963.8" r="5.9"/><circle cx="412.9" cy="1039.9" r="5.9"/><circle cx="317.6" cy="933.3" r="5.9"/><circle cx="622.6" cy="975.7" r="5.9"/><circle cx="585.9" cy="940.7" r="5.9"/><circle cx="459.2" cy="1023.3" r="5.9"/><circle cx="480.1" cy="994.7" r="5.9"/><circle cx="615.8" cy="923.8" r="5.9"/><circle cx="385.5" cy="1032.6" r="5.9"/><circle cx="405.9" cy="1104.3" r="5.9"/><circle cx="263.7" cy="976.6" r="5.9"/><circle cx="427.1" cy="950.8" r="5.9"/><circle cx="531.6" cy="1024.4" r="5.9"/><circle cx="609.8" cy="985.4" r="5.9"/><circle cx="566.7" cy="919.7" r="5.9"/><circle cx="399.2" cy="1036.7" r="5.9"/><circle cx="483.9" cy="1012.6" r="5.9"/><circle cx="436.9" cy="1031.5" r="5.9"/><circle cx="369.8" cy="1041.9" r="5.9"/><circle cx="242.1" cy="930.7" r="5.9"/><circle cx="505.4" cy="974.5" r="5.9"/><circle cx="423.2" cy="1086.5" r="5.9"/><circle cx="512.9" cy="955.5" r="5.9"/><circle cx="682.8" cy="952.3" r="5.9"/><circle cx="507.6" cy="1024.2" r="5.9"/><circle cx="374.5" cy="1019.7" r="5.9"/><circle cx="559.0" cy="1019.4" r="5.9"/><circle cx="442.3" cy="1050.6" r="5.9"/><circle cx="495.6" cy="969.3" r="5.9"/><circle cx="377.2" cy="1000.0" r="5.9"/><circle cx="509.9" cy="1087.3" r="5.9"/><circle cx="447.2" cy="962.8" r="5.9"/><circle cx="468.6" cy="1048.5" r="5.9"/><circle cx="580.8" cy="958.0" r="5.9"/><circle cx="341.7" cy="929.1" r="5.9"/><circle cx="463.8" cy="1097.4" r="5.9"/><circle cx="334.2" cy="1040.8" r="5.9"/><circle cx="457.9" cy="968.1" r="5.9"/><circle cx="400.2" cy="1014.6" r="5.9"/><circle cx="265.6" cy="1034.6" r="5.9"/><circle cx="473.8" cy="1063.1" r="5.9"/><circle cx="312.8" cy="975.0" r="5.9"/><circle cx="359.2" cy="1050.3" r="5.9"/><circle cx="475.7" cy="1007.5" r="5.9"/><circle cx="410.0" cy="1036.5" r="5.9"/><circle cx="258.0" cy="997.9" r="5.9"/><circle cx="396.1" cy="1070.5" r="5.9"/><circle cx="578.2" cy="1082.6" r="5.9"/><circle cx="536.7" cy="968.3" r="5.9"/><circle cx="543.3" cy="1044.5" r="5.9"/><circle cx="393.9" cy="1025.2" r="5.9"/><circle cx="242.0" cy="948.6" r="5.9"/><circle cx="459.9" cy="1094.7" r="5.9"/><circle cx="244.9" cy="944.9" r="5.9"/><circle cx="462.0" cy="993.5" r="5.9"/><circle cx="547.4" cy="1078.7" r="5.9"/><circle cx="639.3" cy="931.0" r="5.9"/><circle cx="445.8" cy="1109.5" r="5.9"/><circle cx="357.3" cy="1073.7" r="5.9"/><circle cx="294.1" cy="992.0" r="5.9"/><circle cx="148.7" cy="966.7" r="5.9"/><circle cx="338.6" cy="1016.2" r="5.9"/><circle cx="349.5" cy="1032.4" r="5.9"/><circle cx="510.5" cy="969.3" r="5.9"/><circle cx="329.6" cy="1048.9" r="5.9"/><circle cx="222.9" cy="925.6" r="5.9"/><circle cx="515.6" cy="981.5" r="5.9"/><circle cx="661.5" cy="970.3" r="5.9"/><circle cx="573.6" cy="1100.0" r="5.9"/><circle cx="593.7" cy="936.6" r="5.9"/><circle cx="572.1" cy="969.7" r="5.9"/><circle cx="347.2" cy="1078.3" r="5.9"/><circle cx="614.3" cy="957.6" r="5.9"/><circle cx="551.8" cy="989.8" r="5.9"/><circle cx="592.2" cy="969.3" r="5.9"/><circle cx="575.4" cy="1033.4" r="5.9"/><circle cx="341.7" cy="1024.6" r="5.9"/><circle cx="375.7" cy="1076.9" r="5.9"/><circle cx="346.2" cy="1033.7" r="5.9"/><circle cx="447.7" cy="1048.7" r="5.9"/><circle cx="511.6" cy="1046.1" r="5.9"/><circle cx="301.2" cy="988.5" r="5.9"/><circle cx="303.6" cy="1011.8" r="5.9"/><circle cx="482.2" cy="994.1" r="5.9"/><circle cx="602.8" cy="977.6" r="5.9"/><circle cx="607.9" cy="943.9" r="5.9"/><circle cx="240.1" cy="959.0" r="5.9"/><circle cx="353.7" cy="934.5" r="5.9"/><circle cx="373.3" cy="955.9" r="5.9"/><circle cx="638.1" cy="964.4" r="5.9"/><circle cx="349.4" cy="1047.6" r="5.9"/><circle cx="512.0" cy="1008.6" r="5.9"/><circle cx="346.7" cy="969.9" r="5.9"/><circle cx="537.9" cy="1032.7" r="5.9"/><circle cx="434.7" cy="1099.2" r="5.9"/><circle cx="573.9" cy="964.5" r="5.9"/><circle cx="423.8" cy="1041.0" r="5.9"/><circle cx="402.6" cy="997.5" r="5.9"/><circle cx="217.2" cy="1013.3" r="5.9"/><circle cx="464.1" cy="1020.6" r="5.9"/><circle cx="355.7" cy="954.3" r="5.9"/><circle cx="433.9" cy="1093.8" r="5.9"/><circle cx="363.8" cy="986.9" r="5.9"/><circle cx="354.2" cy="1055.3" r="5.9"/><circle cx="549.6" cy="958.3" r="5.9"/><circle cx="375.2" cy="999.8" r="5.9"/><circle cx="495.8" cy="955.1" r="5.9"/><circle cx="382.0" cy="1005.4" r="5.9"/><circle cx="528.5" cy="1015.6" r="5.9"/><circle cx="307.2" cy="1038.0" r="5.9"/><circle cx="461.5" cy="1101.0" r="5.9"/><circle cx="197.9" cy="966.2" r="5.9"/><circle cx="371.0" cy="1134.4" r="5.9"/><circle cx="559.5" cy="1040.3" r="5.9"/><circle cx="406.9" cy="1075.6" r="5.9"/><circle cx="446.0" cy="1015.5" r="5.9"/><circle cx="541.5" cy="1025.4" r="5.9"/><circle cx="409.2" cy="1112.9" r="5.9"/><circle cx="430.8" cy="1121.0" r="5.9"/><circle cx="546.2" cy="1031.3" r="5.9"/><circle cx="321.4" cy="1033.6" r="5.9"/><circle cx="399.5" cy="1147.4" r="5.9"/><circle cx="469.9" cy="1041.0" r="5.9"/><circle cx="494.5" cy="1041.5" r="5.9"/><circle cx="624.2" cy="979.4" r="5.9"/><circle cx="489.2" cy="992.7" r="5.9"/><circle cx="331.1" cy="950.8" r="5.9"/><circle cx="225.8" cy="964.2" r="5.9"/><circle cx="531.6" cy="1034.8" r="5.9"/><circle cx="345.4" cy="1110.8" r="5.9"/><circle cx="456.9" cy="1156.2" r="5.9"/><circle cx="383.8" cy="1062.8" r="5.9"/><circle cx="358.4" cy="1095.8" r="5.9"/><circle cx="574.2" cy="957.2" r="5.9"/><circle cx="226.7" cy="937.9" r="5.9"/><circle cx="352.3" cy="1090.1" r="5.9"/><circle cx="599.1" cy="938.9" r="5.9"/><circle cx="350.3" cy="1099.9" r="5.9"/><circle cx="492.1" cy="988.3" r="5.9"/><circle cx="400.0" cy="1173.7" r="5.9"/><circle cx="523.6" cy="993.2" r="5.9"/><circle cx="642.6" cy="946.3" r="5.9"/><circle cx="341.9" cy="1012.3" r="5.9"/><circle cx="542.2" cy="1031.4" r="5.9"/><circle cx="441.8" cy="1176.7" r="5.9"/><circle cx="348.4" cy="1010.5" r="5.9"/><circle cx="349.5" cy="1036.2" r="5.9"/><circle cx="467.3" cy="985.0" r="5.9"/><circle cx="469.9" cy="1000.6" r="5.9"/><circle cx="495.6" cy="1087.4" r="5.9"/><circle cx="551.1" cy="924.4" r="5.9"/><circle cx="420.0" cy="1081.9" r="5.9"/><circle cx="502.5" cy="1023.2" r="5.9"/><circle cx="530.7" cy="976.9" r="5.9"/><circle cx="544.6" cy="1014.7" r="5.9"/><circle cx="462.7" cy="991.0" r="5.9"/><circle cx="375.9" cy="1097.8" r="5.9"/><circle cx="500.5" cy="1042.8" r="5.9"/><circle cx="507.4" cy="1052.0" r="5.9"/><circle cx="254.1" cy="933.6" r="5.9"/><circle cx="357.5" cy="1018.7" r="5.9"/><circle cx="322.0" cy="1028.8" r="5.9"/><circle cx="513.6" cy="1083.1" r="5.9"/><circle cx="287.2" cy="1004.9" r="5.9"/><circle cx="423.6" cy="1022.3" r="5.9"/><circle cx="245.4" cy="926.3" r="5.9"/><circle cx="441.6" cy="1059.7" r="5.9"/><circle cx="206.8" cy="937.9" r="5.9"/><circle cx="486.8" cy="998.0" r="5.9"/><circle cx="521.2" cy="1054.8" r="5.9"/><circle cx="368.6" cy="981.8" r="5.9"/><circle cx="510.4" cy="979.3" r="5.9"/><circle cx="434.6" cy="932.6" r="5.9"/><circle cx="399.7" cy="1096.4" r="5.9"/><circle cx="655.6" cy="942.3" r="5.9"/><circle cx="482.8" cy="1045.5" r="5.9"/><circle cx="494.9" cy="1157.4" r="5.9"/><circle cx="474.6" cy="1069.0" r="5.9"/><circle cx="556.9" cy="990.8" r="5.9"/><circle cx="312.7" cy="1021.5" r="5.9"/><circle cx="302.9" cy="1010.8" r="5.9"/><circle cx="577.7" cy="1045.4" r="5.9"/><circle cx="650.5" cy="935.1" r="5.9"/><circle cx="614.6" cy="958.9" r="5.9"/><circle cx="323.7" cy="1008.7" r="5.9"/><circle cx="420.8" cy="1028.4" r="5.9"/><circle cx="526.3" cy="990.8" r="5.9"/><circle cx="584.6" cy="1051.0" r="5.9"/><circle cx="545.7" cy="1013.0" r="5.9"/><circle cx="365.2" cy="1039.3" r="5.9"/><circle cx="537.7" cy="1119.7" r="5.9"/><circle cx="404.7" cy="999.8" r="5.9"/><circle cx="190.9" cy="921.2" r="5.9"/><circle cx="322.8" cy="991.3" r="5.9"/><circle cx="228.2" cy="1004.9" r="5.9"/><circle cx="455.9" cy="1101.5" r="5.9"/><circle cx="594.9" cy="1035.1" r="5.9"/><circle cx="392.4" cy="1082.7" r="5.9"/><circle cx="289.7" cy="968.9" r="5.9"/><circle cx="572.3" cy="965.0" r="5.9"/><circle cx="439.4" cy="1011.8" r="5.9"/><circle cx="421.3" cy="1113.3" r="5.9"/><circle cx="368.5" cy="1057.4" r="5.9"/><circle cx="557.6" cy="1007.6" r="5.9"/><circle cx="372.8" cy="992.9" r="5.9"/><circle cx="463.3" cy="1023.2" r="5.9"/><circle cx="388.5" cy="1143.3" r="5.9"/><circle cx="443.0" cy="997.9" r="5.9"/><circle cx="394.4" cy="1093.1" r="5.9"/><circle cx="356.3" cy="988.3" r="5.9"/><circle cx="412.8" cy="946.0" r="5.9"/><circle cx="586.1" cy="953.7" r="5.9"/><circle cx="396.6" cy="958.5" r="5.9"/><circle cx="492.3" cy="1007.8" r="5.9"/><circle cx="213.1" cy="928.3" r="5.9"/><circle cx="454.1" cy="1064.1" r="5.9"/><circle cx="292.7" cy="1020.2" r="5.9"/><circle cx="492.3" cy="1117.2" r="5.9"/><circle cx="394.9" cy="1133.8" r="5.9"/><circle cx="370.4" cy="1024.4" r="5.9"/><circle cx="537.5" cy="991.5" r="5.9"/><circle cx="515.5" cy="967.7" r="5.9"/><circle cx="459.8" cy="1031.3" r="5.9"/><circle cx="345.9" cy="1006.0" r="5.9"/><circle cx="467.2" cy="1039.0" r="5.9"/><circle cx="657.7" cy="965.9" r="5.9"/><circle cx="292.1" cy="1040.7" r="5.9"/><circle cx="533.2" cy="961.0" r="5.9"/><circle cx="372.5" cy="1115.4" r="5.9"/><circle cx="474.5" cy="1083.4" r="5.9"/><circle cx="362.3" cy="1011.2" r="5.9"/><circle cx="401.5" cy="1038.0" r="5.9"/><circle cx="568.2" cy="966.7" r="5.9"/><circle cx="347.2" cy="1095.4" r="5.9"/><circle cx="373.5" cy="1010.8" r="5.9"/><circle cx="295.5" cy="995.8" r="5.9"/><circle cx="495.5" cy="968.0" r="5.9"/><circle cx="295.7" cy="999.0" r="5.9"/><circle cx="406.2" cy="1097.3" r="5.9"/><circle cx="347.1" cy="975.4" r="5.9"/><circle cx="365.9" cy="1025.2" r="5.9"/><circle cx="435.8" cy="980.9" r="5.9"/><circle cx="275.2" cy="995.6" r="5.9"/><circle cx="276.2" cy="1081.3" r="5.9"/><circle cx="519.8" cy="1021.9" r="5.9"/><circle cx="322.9" cy="1006.4" r="5.9"/><circle cx="394.5" cy="983.7" r="5.9"/><circle cx="509.7" cy="994.5" r="5.9"/><circle cx="637.5" cy="946.3" r="5.9"/><circle cx="316.6" cy="1047.1" r="5.9"/><circle cx="383.6" cy="1035.5" r="5.9"/><circle cx="422.2" cy="1047.4" r="5.9"/><circle cx="437.1" cy="1024.6" r="5.9"/><circle cx="580.0" cy="999.5" r="5.9"/><circle cx="258.2" cy="988.3" r="5.9"/><circle cx="309.9" cy="1069.0" r="5.9"/><circle cx="370.8" cy="1087.0" r="5.9"/><circle cx="521.9" cy="983.8" r="5.9"/><circle cx="310.2" cy="951.9" r="5.9"/><circle cx="437.0" cy="1047.2" r="5.9"/><circle cx="525.6" cy="1001.5" r="5.9"/><circle cx="455.7" cy="1112.1" r="5.9"/><circle cx="509.8" cy="1018.2" r="5.9"/><circle cx="495.3" cy="1000.4" r="5.9"/><circle cx="469.7" cy="1126.2" r="5.9"/><circle cx="482.7" cy="1072.6" r="5.9"/><circle cx="392.8" cy="1006.2" r="5.9"/><circle cx="337.4" cy="941.7" r="5.9"/><circle cx="590.2" cy="930.0" r="5.9"/><circle cx="620.3" cy="968.4" r="5.9"/><circle cx="393.8" cy="1103.1" r="5.9"/><circle cx="450.0" cy="1036.3" r="5.9"/><circle cx="294.6" cy="974.8" r="5.9"/><circle cx="572.1" cy="966.0" r="5.9"/><circle cx="481.4" cy="1009.1" r="5.9"/><circle cx="483.5" cy="995.2" r="5.9"/><circle cx="297.0" cy="1065.8" r="5.9"/><circle cx="361.8" cy="1035.0" r="5.9"/><circle cx="381.1" cy="989.8" r="5.9"/><circle cx="382.1" cy="986.3" r="5.9"/><circle cx="425.2" cy="998.7" r="5.9"/><circle cx="425.1" cy="1070.4" r="5.9"/><circle cx="434.0" cy="1030.5" r="5.9"/><circle cx="483.9" cy="1038.7" r="5.9"/><circle cx="345.1" cy="998.3" r="5.9"/><circle cx="456.2" cy="978.0" r="5.9"/><circle cx="541.4" cy="954.1" r="5.9"/><circle cx="482.5" cy="1070.4" r="5.9"/><circle cx="537.1" cy="971.6" r="5.9"/><circle cx="376.0" cy="1081.1" r="5.9"/><circle cx="453.2" cy="1016.9" r="5.9"/><circle cx="379.4" cy="1035.8" r="5.9"/><circle cx="252.6" cy="981.2" r="5.9"/><circle cx="438.5" cy="1042.9" r="5.9"/><circle cx="326.9" cy="1121.5" r="5.9"/><circle cx="515.6" cy="1027.9" r="5.9"/><circle cx="408.5" cy="1026.7" r="5.9"/><circle cx="380.8" cy="1130.0" r="5.9"/><circle cx="384.4" cy="1013.3" r="5.9"/><circle cx="346.2" cy="1079.8" r="5.9"/><circle cx="593.3" cy="971.5" r="5.9"/><circle cx="270.4" cy="988.6" r="5.9"/><circle cx="523.4" cy="1055.6" r="5.9"/><circle cx="239.5" cy="972.2" r="5.9"/><circle cx="364.1" cy="1029.6" r="5.9"/><circle cx="554.1" cy="989.4" r="5.9"/><circle cx="331.1" cy="982.6" r="5.9"/><circle cx="619.4" cy="923.3" r="5.9"/><circle cx="454.7" cy="985.4" r="5.9"/><circle cx="560.6" cy="955.5" r="5.9"/><circle cx="367.8" cy="1006.7" r="5.9"/><circle cx="384.7" cy="1009.9" r="5.9"/><circle cx="455.8" cy="940.3" r="5.9"/><circle cx="292.0" cy="973.9" r="5.9"/><circle cx="298.7" cy="920.3" r="5.9"/><circle cx="405.1" cy="1137.2" r="5.9"/><circle cx="446.7" cy="1069.4" r="5.9"/><circle cx="553.7" cy="1005.4" r="5.9"/><circle cx="576.7" cy="1004.3" r="5.9"/><circle cx="471.3" cy="1027.2" r="5.9"/><circle cx="345.4" cy="1025.1" r="5.9"/><circle cx="664.1" cy="1035.1" r="5.9"/><circle cx="424.3" cy="1030.6" r="5.9"/><circle cx="534.0" cy="1003.5" r="5.9"/><circle cx="447.8" cy="942.6" r="5.9"/><circle cx="494.0" cy="1008.4" r="5.9"/><circle cx="363.5" cy="986.4" r="5.9"/><circle cx="391.5" cy="1062.7" r="5.9"/><circle cx="308.7" cy="937.2" r="5.9"/><circle cx="322.3" cy="1089.0" r="5.9"/><circle cx="218.6" cy="936.1" r="5.9"/><circle cx="585.9" cy="1035.1" r="5.9"/><circle cx="319.2" cy="1030.9" r="5.9"/><circle cx="491.3" cy="1006.5" r="5.9"/><circle cx="488.7" cy="1055.2" r="5.9"/><circle cx="231.1" cy="959.4" r="5.9"/><circle cx="383.0" cy="1018.5" r="5.9"/><circle cx="317.4" cy="921.0" r="5.9"/><circle cx="445.6" cy="1009.9" r="5.9"/><circle cx="362.5" cy="1012.0" r="5.9"/><circle cx="197.3" cy="924.3" r="5.9"/><circle cx="372.1" cy="991.8" r="5.9"/><circle cx="480.9" cy="1080.8" r="5.9"/><circle cx="440.1" cy="1010.6" r="5.9"/><circle cx="563.5" cy="1029.9" r="5.9"/><circle cx="480.0" cy="986.5" r="5.9"/><circle cx="313.7" cy="982.6" r="5.9"/><circle cx="466.7" cy="1157.7" r="5.9"/><circle cx="398.5" cy="1077.4" r="5.9"/><circle cx="389.9" cy="1042.0" r="5.9"/><circle cx="394.2" cy="976.8" r="5.9"/><circle cx="411.5" cy="1052.0" r="5.9"/><circle cx="491.8" cy="1077.2" r="5.9"/><circle cx="496.7" cy="1054.1" r="5.9"/><circle cx="402.7" cy="948.5" r="5.9"/><circle cx="495.8" cy="1010.8" r="5.9"/><circle cx="324.2" cy="946.3" r="5.9"/><circle cx="414.0" cy="1094.8" r="5.9"/><circle cx="180.8" cy="947.2" r="5.9"/><circle cx="464.1" cy="1015.4" r="5.9"/><circle cx="416.5" cy="1029.5" r="5.9"/><circle cx="586.6" cy="951.0" r="5.9"/><circle cx="401.8" cy="1081.9" r="5.9"/><circle cx="458.5" cy="1122.3" r="5.9"/><circle cx="595.4" cy="975.4" r="5.9"/><circle cx="551.6" cy="1013.8" r="5.9"/><circle cx="363.2" cy="1059.7" r="5.9"/><circle cx="361.6" cy="1087.8" r="5.9"/><circle cx="456.8" cy="969.1" r="5.9"/><circle cx="253.8" cy="978.6" r="5.9"/><circle cx="205.0" cy="932.5" r="5.9"/><circle cx="478.2" cy="977.4" r="5.9"/><circle cx="553.6" cy="948.5" r="5.9"/><circle cx="336.5" cy="1010.9" r="5.9"/><circle cx="451.9" cy="1086.2" r="5.9"/><circle cx="336.2" cy="989.3" r="5.9"/><circle cx="246.6" cy="962.4" r="5.9"/><circle cx="277.4" cy="1015.7" r="5.9"/><circle cx="230.7" cy="970.8" r="5.9"/><circle cx="450.1" cy="973.6" r="5.9"/><circle cx="391.0" cy="931.3" r="5.9"/><circle cx="346.5" cy="995.7" r="5.9"/><circle cx="492.2" cy="962.6" r="5.9"/><circle cx="378.4" cy="992.6" r="5.9"/><circle cx="434.9" cy="1010.0" r="5.9"/><circle cx="355.1" cy="1069.4" r="5.9"/><circle cx="435.9" cy="1101.6" r="5.9"/><circle cx="538.0" cy="1078.6" r="5.9"/><circle cx="460.8" cy="1103.6" r="5.9"/><circle cx="473.3" cy="981.4" r="5.9"/><circle cx="511.5" cy="1126.2" r="5.9"/><circle cx="547.9" cy="1113.8" r="5.9"/><circle cx="276.9" cy="1074.1" r="5.9"/><circle cx="475.7" cy="1096.4" r="5.9"/><circle cx="484.7" cy="1052.7" r="5.9"/><circle cx="422.2" cy="1063.1" r="5.9"/><circle cx="357.9" cy="959.7" r="5.9"/><circle cx="329.6" cy="997.6" r="5.9"/><circle cx="510.6" cy="1014.3" r="5.9"/><circle cx="406.9" cy="1093.5" r="5.9"/><circle cx="213.7" cy="973.1" r="5.9"/><circle cx="576.4" cy="1174.1" r="5.9"/><circle cx="251.6" cy="999.0" r="5.9"/><circle cx="371.8" cy="984.8" r="5.9"/><circle cx="288.2" cy="955.4" r="5.9"/><circle cx="455.8" cy="1025.2" r="5.9"/><circle cx="336.2" cy="980.5" r="5.9"/><circle cx="489.7" cy="1177.4" r="5.9"/><circle cx="544.9" cy="1033.9" r="5.9"/><circle cx="498.2" cy="1070.4" r="5.9"/><circle cx="225.8" cy="941.3" r="5.9"/><circle cx="688.0" cy="920.3" r="5.9"/><circle cx="435.8" cy="1010.3" r="5.9"/><circle cx="438.9" cy="997.2" r="5.9"/><circle cx="525.6" cy="1090.8" r="5.9"/><circle cx="571.3" cy="940.9" r="5.9"/><circle cx="439.6" cy="1106.8" r="5.9"/><circle cx="352.9" cy="1027.0" r="5.9"/><circle cx="618.7" cy="984.5" r="5.9"/><circle cx="355.1" cy="1018.9" r="5.9"/><circle cx="436.7" cy="1073.3" r="5.9"/><circle cx="270.5" cy="1017.4" r="5.9"/><circle cx="423.0" cy="1004.6" r="5.9"/><circle cx="484.3" cy="1019.6" r="5.9"/><circle cx="359.5" cy="997.9" r="5.9"/><circle cx="478.7" cy="944.1" r="5.9"/><circle cx="240.3" cy="955.1" r="5.9"/><circle cx="231.1" cy="948.4" r="5.9"/><circle cx="358.1" cy="957.6" r="5.9"/><circle cx="585.1" cy="1112.6" r="5.9"/><circle cx="399.7" cy="1002.4" r="5.9"/><circle cx="316.6" cy="1029.2" r="5.9"/><circle cx="252.3" cy="933.7" r="5.9"/><circle cx="568.5" cy="1024.8" r="5.9"/><circle cx="493.6" cy="1144.1" r="5.9"/><circle cx="614.1" cy="1033.3" r="5.9"/><circle cx="592.5" cy="966.6" r="5.9"/><circle cx="514.4" cy="932.9" r="5.9"/><circle cx="331.3" cy="994.6" r="5.9"/><circle cx="356.0" cy="990.0" r="5.9"/><circle cx="627.1" cy="959.8" r="5.9"/><circle cx="454.2" cy="1075.9" r="5.9"/><circle cx="268.5" cy="1061.5" r="5.9"/><circle cx="473.1" cy="1053.1" r="5.9"/><circle cx="332.0" cy="1036.7" r="5.9"/><circle cx="460.0" cy="1041.6" r="5.9"/><circle cx="197.3" cy="935.2" r="5.9"/><circle cx="339.0" cy="964.1" r="5.9"/><circle cx="442.7" cy="1072.0" r="5.9"/><circle cx="349.1" cy="1063.3" r="5.9"/><circle cx="400.1" cy="1023.0" r="5.9"/><circle cx="355.3" cy="1051.2" r="5.9"/><circle cx="449.4" cy="966.8" r="5.9"/><circle cx="176.9" cy="996.2" r="5.9"/><circle cx="404.3" cy="1080.1" r="5.9"/><circle cx="589.0" cy="998.0" r="5.9"/><circle cx="238.0" cy="960.6" r="5.9"/><circle cx="436.1" cy="1029.2" r="5.9"/><circle cx="392.3" cy="1065.7" r="5.9"/><circle cx="313.1" cy="936.4" r="5.9"/><circle cx="634.2" cy="956.4" r="5.9"/><circle cx="542.3" cy="1000.9" r="5.9"/><circle cx="214.0" cy="990.4" r="5.9"/><circle cx="478.7" cy="978.9" r="5.9"/><circle cx="464.7" cy="1007.7" r="5.9"/><circle cx="610.8" cy="972.5" r="5.9"/><circle cx="356.0" cy="1020.0" r="5.9"/><circle cx="574.2" cy="987.2" r="5.9"/><circle cx="536.7" cy="1010.6" r="5.9"/><circle cx="495.0" cy="1083.4" r="5.9"/><circle cx="174.4" cy="927.9" r="5.9"/><circle cx="323.2" cy="1012.3" r="5.9"/><circle cx="244.8" cy="987.7" r="5.9"/><circle cx="402.8" cy="983.3" r="5.9"/><circle cx="609.9" cy="940.6" r="5.9"/><circle cx="417.1" cy="1012.1" r="5.9"/><circle cx="250.2" cy="947.0" r="5.9"/><circle cx="235.7" cy="980.5" r="5.9"/><circle cx="330.0" cy="1079.2" r="5.9"/><circle cx="247.9" cy="998.5" r="5.9"/><circle cx="230.1" cy="944.8" r="5.9"/><circle cx="259.5" cy="1070.3" r="5.9"/><circle cx="469.7" cy="998.8" r="5.9"/><circle cx="295.4" cy="935.1" r="5.9"/><circle cx="424.6" cy="1004.1" r="5.9"/><circle cx="440.0" cy="1052.8" r="5.9"/><circle cx="266.2" cy="1032.4" r="5.9"/><circle cx="250.1" cy="935.7" r="5.9"/><circle cx="211.3" cy="925.7" r="5.9"/><circle cx="407.7" cy="1092.6" r="5.9"/><circle cx="294.8" cy="974.8" r="5.9"/><circle cx="435.4" cy="1100.6" r="5.9"/><circle cx="248.5" cy="961.5" r="5.9"/><circle cx="325.6" cy="972.7" r="5.9"/><circle cx="475.9" cy="1024.0" r="5.9"/><circle cx="384.6" cy="1056.9" r="5.9"/><circle cx="235.9" cy="921.0" r="5.9"/><circle cx="275.0" cy="962.6" r="5.9"/><circle cx="489.8" cy="1008.5" r="5.9"/><circle cx="207.2" cy="967.2" r="5.9"/><circle cx="304.0" cy="946.0" r="5.9"/><circle cx="564.8" cy="1001.9" r="5.9"/><circle cx="335.8" cy="1077.5" r="5.9"/><circle cx="394.6" cy="983.1" r="5.9"/><circle cx="562.8" cy="1097.9" r="5.9"/><circle cx="531.7" cy="1019.1" r="5.9"/><circle cx="402.8" cy="981.3" r="5.9"/><circle cx="615.1" cy="955.6" r="5.9"/><circle cx="322.4" cy="1001.9" r="5.9"/><circle cx="349.0" cy="1095.9" r="5.9"/><circle cx="364.0" cy="1076.3" r="5.9"/><circle cx="530.2" cy="1010.3" r="5.9"/><circle cx="467.4" cy="1051.4" r="5.9"/><circle cx="524.7" cy="1012.0" r="5.9"/><circle cx="609.2" cy="974.0" r="5.9"/><circle cx="463.7" cy="1028.2" r="5.9"/><circle cx="524.7" cy="952.5" r="5.9"/><circle cx="420.1" cy="1038.7" r="5.9"/><circle cx="660.3" cy="940.1" r="5.9"/><circle cx="481.4" cy="1022.4" r="5.9"/><circle cx="513.1" cy="989.6" r="5.9"/><circle cx="558.4" cy="1057.8" r="5.9"/><circle cx="252.4" cy="985.3" r="5.9"/><circle cx="423.7" cy="1029.7" r="5.9"/><circle cx="247.1" cy="1007.4" r="5.9"/><circle cx="503.6" cy="964.6" r="5.9"/><circle cx="370.0" cy="922.6" r="5.9"/><circle cx="380.8" cy="1027.9" r="5.9"/><circle cx="452.7" cy="1056.9" r="5.9"/><circle cx="243.6" cy="984.9" r="5.9"/><circle cx="506.8" cy="983.5" r="5.9"/><circle cx="483.2" cy="1033.1" r="5.9"/><circle cx="629.4" cy="977.7" r="5.9"/><circle cx="440.8" cy="955.2" r="5.9"/><circle cx="475.9" cy="1010.1" r="5.9"/><circle cx="298.6" cy="955.3" r="5.9"/><circle cx="259.5" cy="925.3" r="5.9"/><circle cx="501.4" cy="1054.3" r="5.9"/><circle cx="591.1" cy="961.1" r="5.9"/><circle cx="562.7" cy="975.4" r="5.9"/><circle cx="403.0" cy="1089.0" r="5.9"/><circle cx="301.6" cy="1039.0" r="5.9"/><circle cx="403.7" cy="946.3" r="5.9"/><circle cx="337.7" cy="1028.6" r="5.9"/><circle cx="506.7" cy="968.7" r="5.9"/><circle cx="404.1" cy="983.9" r="5.9"/><circle cx="495.4" cy="981.5" r="5.9"/><circle cx="439.7" cy="1042.7" r="5.9"/><circle cx="502.0" cy="1098.9" r="5.9"/><circle cx="632.6" cy="1088.5" r="5.9"/><circle cx="405.7" cy="1037.7" r="5.9"/><circle cx="352.8" cy="1044.7" r="5.9"/><circle cx="389.9" cy="984.1" r="5.9"/><circle cx="477.6" cy="1056.9" r="5.9"/><circle cx="413.8" cy="1061.6" r="5.9"/><circle cx="357.8" cy="1024.3" r="5.9"/><circle cx="386.4" cy="942.9" r="5.9"/><circle cx="448.0" cy="1066.3" r="5.9"/><circle cx="298.4" cy="1049.2" r="5.9"/>
</g>
<rect x="120.6" y="796.6" width="618.1" height="460.2" fill="none" stroke="#3c3c3c" stroke-width="1.35"/>
<g stroke="#333" stroke-width="1.35" fill="#262626" font-size="17.0">
<line x1="114.6" y1="1205.9" x2="120.6" y2="1205.9"/><text x="108.0" y="1212.7" text-anchor="end" stroke="none">0.10</text>
<line x1="114.6" y1="1142.1" x2="120.6" y2="1142.1"/><text x="108.0" y="1148.9" text-anchor="end" stroke="none">0.15</text>
<line x1="114.6" y1="1078.3" x2="120.6" y2="1078.3"/><text x="108.0" y="1085.1" text-anchor="end" stroke="none">0.20</text>
<line x1="114.6" y1="1014.5" x2="120.6" y2="1014.5"/><text x="108.0" y="1021.3" text-anchor="end" stroke="none">0.25</text>
<line x1="114.6" y1="950.7" x2="120.6" y2="950.7"/><text x="108.0" y="957.5" text-anchor="end" stroke="none">0.30</text>
<line x1="114.6" y1="886.9" x2="120.6" y2="886.9"/><text x="108.0" y="893.7" text-anchor="end" stroke="none">0.35</text>
<line x1="114.6" y1="823.1" x2="120.6" y2="823.1"/><text x="108.0" y="829.9" text-anchor="end" stroke="none">0.40</text>
<line x1="250.7" y1="1256.8" x2="250.7" y2="1262.8"/><text x="250.7" y="1281.8" text-anchor="middle" stroke="none">1.18</text>
<line x1="382.8" y1="1256.8" x2="382.8" y2="1262.8"/><text x="382.8" y="1281.8" text-anchor="middle" stroke="none">1.20</text>
<line x1="514.9" y1="1256.8" x2="514.9" y2="1262.8"/><text x="514.9" y="1281.8" text-anchor="middle" stroke="none">1.22</text>
<line x1="646.9" y1="1256.8" x2="646.9" y2="1262.8"/><text x="646.9" y="1281.8" text-anchor="middle" stroke="none">1.24</text>
</g>
<rect x="657.5" y="804.8" width="72.1" height="31" rx="3" ry="3" fill="#fff" fill-opacity="0.8" stroke="#cccccc" stroke-width="1.2"/>
<line x1="664.7" y1="819.5" x2="696" y2="819.5" stroke="#3b528b" stroke-width="3.2" stroke-dasharray="12.4 6.4"/>
<text x="713.5" y="825.6" font-size="17.0" font-style="italic" fill="#000">ε</text>
<text transform="matrix(0.3811 0 0 0.3961 418.07 1322.35)" font-size="100" fill="#000" font-style="italic">λ</text>
<text transform="matrix(0 -0.3124 0.3235 0 44.94 1074.10)" font-size="100" fill="#000" font-style="italic">W<tspan font-style="normal">(</tspan>n<tspan font-size="70" dy="14.5" dx="2">i</tspan><tspan font-style="normal" dy="-14.5" dx="2">,</tspan><tspan dx="21">n</tspan><tspan font-size="70" dy="14.5" dx="2">obs</tspan><tspan font-style="normal" dy="-14.5">)</tspan></text>
<rect x="1154.0" y="790.0" width="618.2" height="459.9" fill="#fff" stroke="#3c3c3c" stroke-width="1.35"/>
<path d="M1180.4 1249.5L1183.2 1249.5L1186.0 1249.4L1188.9 1249.3L1191.7 1249.2L1194.6 1249.1L1197.4 1249.0L1200.2 1248.9L1203.1 1248.7L1205.9 1248.5L1208.8 1248.4L1211.6 1248.1L1214.4 1247.9L1217.3 1247.6L1220.1 1247.3L1223.0 1247.0L1225.8 1246.6L1228.6 1246.2L1231.5 1245.7L1234.3 1245.2L1237.2 1244.6L1240.0 1243.9L1242.8 1243.2L1245.7 1242.4L1248.5 1241.6L1251.4 1240.6L1254.2 1239.5L1257.0 1238.4L1259.9 1237.1L1262.7 1235.7L1265.6 1234.2L1268.4 1232.5L1271.2 1230.7L1274.1 1228.8L1276.9 1226.7L1279.8 1224.4L1282.6 1221.9L1285.5 1219.2L1288.3 1216.4L1291.1 1213.3L1294.0 1210.0L1296.8 1206.5L1299.7 1202.7L1302.5 1198.7L1305.3 1194.4L1308.2 1189.9L1311.0 1185.0L1313.9 1179.9L1316.7 1174.6L1319.5 1168.9L1322.4 1162.9L1325.2 1156.7L1328.1 1150.1L1330.9 1143.2L1333.7 1136.1L1336.6 1128.6L1339.4 1120.9L1342.3 1112.9L1345.1 1104.6L1347.9 1096.0L1350.8 1087.2L1353.6 1078.1L1356.5 1068.8L1359.3 1059.3L1362.1 1049.6L1365.0 1039.7L1367.8 1029.6L1370.7 1019.5L1373.5 1009.2L1376.3 998.9L1379.2 988.5L1382.0 978.1L1384.9 967.7L1387.7 957.4L1390.5 947.2L1393.4 937.1L1396.2 927.1L1399.1 917.3L1401.9 907.8L1404.7 898.5L1407.6 889.5L1410.4 880.9L1413.3 872.6L1416.1 864.7L1418.9 857.3L1421.8 850.3L1424.6 843.8L1427.5 837.9L1430.3 832.5L1433.2 827.7L1436.0 823.4L1438.8 819.8L1441.7 816.8L1444.5 814.5L1447.4 812.8L1450.2 811.8L1453.0 811.4L1455.9 811.7L1458.7 812.7L1461.6 814.4L1464.4 816.7L1467.2 819.6L1470.1 823.2L1472.9 827.4L1475.8 832.2L1478.6 837.5L1481.4 843.5L1484.3 849.9L1487.1 856.9L1490.0 864.3L1492.8 872.1L1495.6 880.4L1498.5 889.0L1501.3 898.0L1504.2 907.2L1507.0 916.8L1509.8 926.5L1512.7 936.5L1515.5 946.6L1518.4 956.8L1521.2 967.1L1524.0 977.5L1526.9 987.9L1529.7 998.3L1532.6 1008.6L1535.4 1018.9L1538.2 1029.0L1541.1 1039.1L1543.9 1049.0L1546.8 1058.7L1549.6 1068.2L1552.4 1077.5L1555.3 1086.6L1558.1 1095.5L1561.0 1104.0L1563.8 1112.4L1566.7 1120.4L1569.5 1128.2L1572.3 1135.6L1575.2 1142.8L1578.0 1149.7L1580.9 1156.3L1583.7 1162.6L1586.5 1168.5L1589.4 1174.2L1592.2 1179.6L1595.1 1184.7L1597.9 1189.6L1600.7 1194.1L1603.6 1198.4L1606.4 1202.5L1609.3 1206.2L1612.1 1209.8L1614.9 1213.1L1617.8 1216.2L1620.6 1219.1L1623.5 1221.8L1626.3 1224.2L1629.1 1226.5L1632.0 1228.7L1634.8 1230.6L1637.7 1232.4L1640.5 1234.1L1643.3 1235.6L1646.2 1237.0L1649.0 1238.3L1651.9 1239.5L1654.7 1240.5L1657.5 1241.5L1660.4 1242.4L1663.2 1243.2L1666.1 1243.9L1668.9 1244.6L1671.7 1245.1L1674.6 1245.7L1677.4 1246.1L1680.3 1246.6L1683.1 1247.0L1685.9 1247.3L1688.8 1247.6L1691.6 1247.9L1694.5 1248.1L1697.3 1248.3L1700.2 1248.5L1703.0 1248.7L1705.8 1248.9L1708.7 1249.0L1711.5 1249.1L1714.4 1249.2L1717.2 1249.3L1720.0 1249.4L1722.9 1249.5L1725.7 1249.5L1728.6 1249.6L1731.4 1249.6L1734.2 1249.7L1737.1 1249.7L1739.9 1249.7L1742.8 1249.7L1745.6 1249.8" fill="none" stroke="#34508c" stroke-width="2.7" stroke-linejoin="round"/>
<g stroke="#333" stroke-width="1.35" fill="#262626" font-size="17.0">
<line x1="1148.0" y1="1249.9" x2="1154.0" y2="1249.9"/><text x="1141.7" y="1257.0" text-anchor="end" stroke="none">0</text>
<line x1="1148.0" y1="1185.7" x2="1154.0" y2="1185.7"/><text x="1141.7" y="1192.8" text-anchor="end" stroke="none">2</text>
<line x1="1148.0" y1="1121.5" x2="1154.0" y2="1121.5"/><text x="1141.7" y="1128.6" text-anchor="end" stroke="none">4</text>
<line x1="1148.0" y1="1057.3" x2="1154.0" y2="1057.3"/><text x="1141.7" y="1064.4" text-anchor="end" stroke="none">6</text>
<line x1="1148.0" y1="993.1" x2="1154.0" y2="993.1"/><text x="1141.7" y="1000.2" text-anchor="end" stroke="none">8</text>
<line x1="1148.0" y1="928.9" x2="1154.0" y2="928.9"/><text x="1141.7" y="936.0" text-anchor="end" stroke="none">10</text>
<line x1="1148.0" y1="864.7" x2="1154.0" y2="864.7"/><text x="1141.7" y="871.8" text-anchor="end" stroke="none">12</text>
<line x1="1148.0" y1="800.5" x2="1154.0" y2="800.5"/><text x="1141.7" y="807.6" text-anchor="end" stroke="none">14</text>
<line x1="1225.2" y1="1249.9" x2="1225.2" y2="1255.9"/><text x="1225.2" y="1275.7" text-anchor="middle" stroke="none">1.10</text>
<line x1="1348.4" y1="1249.9" x2="1348.4" y2="1255.9"/><text x="1348.4" y="1275.7" text-anchor="middle" stroke="none">1.15</text>
<line x1="1471.6" y1="1249.9" x2="1471.6" y2="1255.9"/><text x="1471.6" y="1275.7" text-anchor="middle" stroke="none">1.20</text>
<line x1="1594.8" y1="1249.9" x2="1594.8" y2="1255.9"/><text x="1594.8" y="1275.7" text-anchor="middle" stroke="none">1.25</text>
<line x1="1718.0" y1="1249.9" x2="1718.0" y2="1255.9"/><text x="1718.0" y="1275.7" text-anchor="middle" stroke="none">1.30</text>
</g>
<text transform="matrix(0.3962 0 0 0.3961 1454.23 1318.15)" font-size="100" fill="#000" font-style="italic">λ</text>
<text transform="matrix(0 -0.3180 0.3245 0 1091.12 1224.45)" font-size="100" fill="#000" >Proposal distribution, <tspan font-style="italic">g</tspan>(<tspan font-style="italic">λ</tspan>)</text>
</svg>
</body></html>
